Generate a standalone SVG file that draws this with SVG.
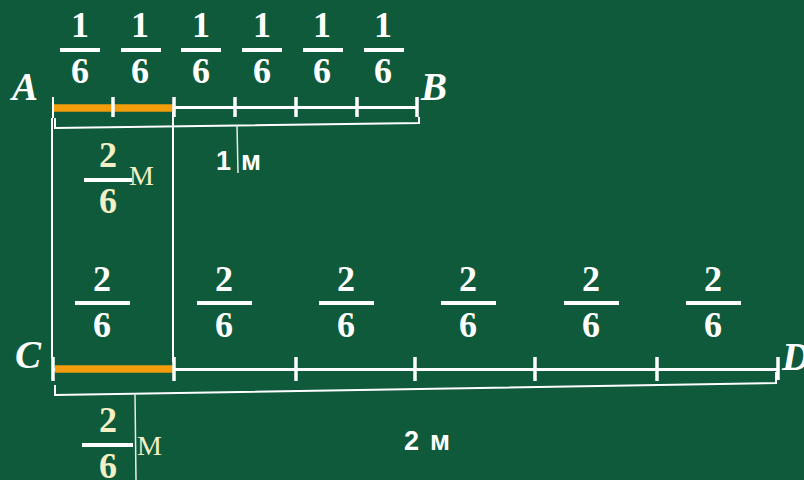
<svg xmlns="http://www.w3.org/2000/svg" width="804" height="480" viewBox="0 0 804 480">
<style>
.frac{font-family:"Liberation Serif","Times New Roman",serif;font-weight:bold;font-size:36px;fill:#ffffff;text-anchor:middle}
.cream{fill:#f4efc4}
.lbl{font-family:"Liberation Serif","Times New Roman",serif;font-weight:bold;font-style:italic;font-size:39px;fill:#ffffff}
.unit{font-family:"Liberation Serif","Times New Roman",serif;font-size:28px;fill:#f4efc4}
.meter{font-family:"Liberation Sans",Arial,sans-serif;font-weight:bold;font-size:27px;fill:#ffffff}
.bar{stroke:#ffffff;stroke-width:4}
.axis{stroke:#ffffff;stroke-width:3}
.tick{stroke:#ffffff;stroke-width:3.5}
.seg{stroke:#f39c0c;stroke-width:7.5}
.thin{stroke:#ffffff;stroke-width:2;fill:none}
.stem{stroke:#e8ece8;stroke-width:1.5;fill:none}
</style>
<rect x="0" y="0" width="804" height="480" fill="#0f5a3b"/>

<g id="connectors">
  <line class="thin" x1="52" y1="118" x2="52" y2="358"/>
  <line class="thin" x1="173" y1="108" x2="173" y2="362"/>
  <polyline class="thin" points="55,118 55,128 419,123 419,117"/>
  <line class="stem" x1="237" y1="125" x2="238" y2="173"/>
  <polyline class="thin" points="55,385 55,395 776,383 776,372"/>
  <line class="stem" x1="135" y1="394" x2="136" y2="480"/>
</g>

<g id="segment-AB">
  <line class="axis" x1="53" y1="107.5" x2="417" y2="107.5"/>
  <line class="seg" x1="54" y1="108" x2="173" y2="108"/>
  <line class="thin" x1="53" y1="97" x2="53" y2="118"/>
  <line class="tick" x1="113" y1="97" x2="113" y2="117"/>
  <line class="tick" x1="174" y1="97" x2="174" y2="117"/>
  <line class="tick" x1="235" y1="97" x2="235" y2="117"/>
  <line class="tick" x1="296" y1="97" x2="296" y2="117"/>
  <line class="tick" x1="357" y1="97" x2="357" y2="117"/>
  <line class="tick" x1="417" y1="97" x2="417" y2="117"/>
  <text class="lbl" x="12" y="100">A</text>
  <text class="lbl" x="421" y="100">B</text>
</g>

<g id="fractions-top">
  <text class="frac" x="80" y="37">1</text><line class="bar" x1="60" y1="50" x2="100" y2="50"/><text class="frac" x="80" y="83">6</text>
  <text class="frac" x="140" y="37">1</text><line class="bar" x1="121" y1="50" x2="161" y2="50"/><text class="frac" x="140" y="83">6</text>
  <text class="frac" x="201" y="37">1</text><line class="bar" x1="181" y1="50" x2="221" y2="50"/><text class="frac" x="201" y="83">6</text>
  <text class="frac" x="262" y="37">1</text><line class="bar" x1="242" y1="50" x2="282" y2="50"/><text class="frac" x="262" y="83">6</text>
  <text class="frac" x="322" y="37">1</text><line class="bar" x1="303" y1="50" x2="343" y2="50"/><text class="frac" x="322" y="83">6</text>
  <text class="frac" x="383" y="37">1</text><line class="bar" x1="364" y1="50" x2="404" y2="50"/><text class="frac" x="383" y="83">6</text>
</g>

<g id="label-top-part">
  <text class="frac cream" x="108" y="167">2</text>
  <line class="bar" x1="84" y1="180" x2="132" y2="180"/>
  <text class="frac cream" x="108" y="213">6</text>
  <text class="unit" x="129" y="185">M</text>
</g>

<g id="label-1m">
  <text class="meter" x="216" y="170">1</text>
  <text class="meter" x="241" y="170">м</text>
</g>

<g id="segment-CD">
  <line class="axis" x1="53" y1="369.5" x2="778" y2="369.5"/>
  <line class="seg" x1="55" y1="369" x2="173" y2="369"/>
  <line class="tick" x1="53" y1="357" x2="53" y2="381"/>
  <line class="tick" x1="174" y1="357" x2="174" y2="381"/>
  <line class="tick" x1="296" y1="357" x2="296" y2="381"/>
  <line class="tick" x1="415" y1="357" x2="415" y2="381"/>
  <line class="tick" x1="535" y1="357" x2="535" y2="381"/>
  <line class="tick" x1="657" y1="357" x2="657" y2="381"/>
  <line class="tick" x1="778" y1="357" x2="778" y2="380"/>
  <text class="lbl" x="15" y="368">C</text>
  <text class="lbl" x="782" y="370">D</text>
</g>

<g id="fractions-bottom">
  <text class="frac" x="102" y="291">2</text><line class="bar" x1="75" y1="303" x2="130" y2="303"/><text class="frac" x="102" y="337">6</text>
  <text class="frac" x="224" y="291">2</text><line class="bar" x1="197" y1="303" x2="252" y2="303"/><text class="frac" x="224" y="337">6</text>
  <text class="frac" x="346" y="291">2</text><line class="bar" x1="319" y1="303" x2="374" y2="303"/><text class="frac" x="346" y="337">6</text>
  <text class="frac" x="468" y="291">2</text><line class="bar" x1="441" y1="303" x2="496" y2="303"/><text class="frac" x="468" y="337">6</text>
  <text class="frac" x="591" y="291">2</text><line class="bar" x1="564" y1="303" x2="619" y2="303"/><text class="frac" x="591" y="337">6</text>
  <text class="frac" x="713" y="291">2</text><line class="bar" x1="686" y1="303" x2="741" y2="303"/><text class="frac" x="713" y="337">6</text>
</g>

<g id="label-bottom-part">
  <text class="frac cream" x="108" y="432">2</text>
  <line class="bar" x1="82" y1="445" x2="133" y2="445"/>
  <text class="frac cream" x="108" y="478">6</text>
  <text class="unit" x="137" y="455">M</text>
</g>

<g id="label-2m">
  <text class="meter" x="404" y="450">2</text>
  <text class="meter" x="430" y="450">м</text>
</g>
</svg>
